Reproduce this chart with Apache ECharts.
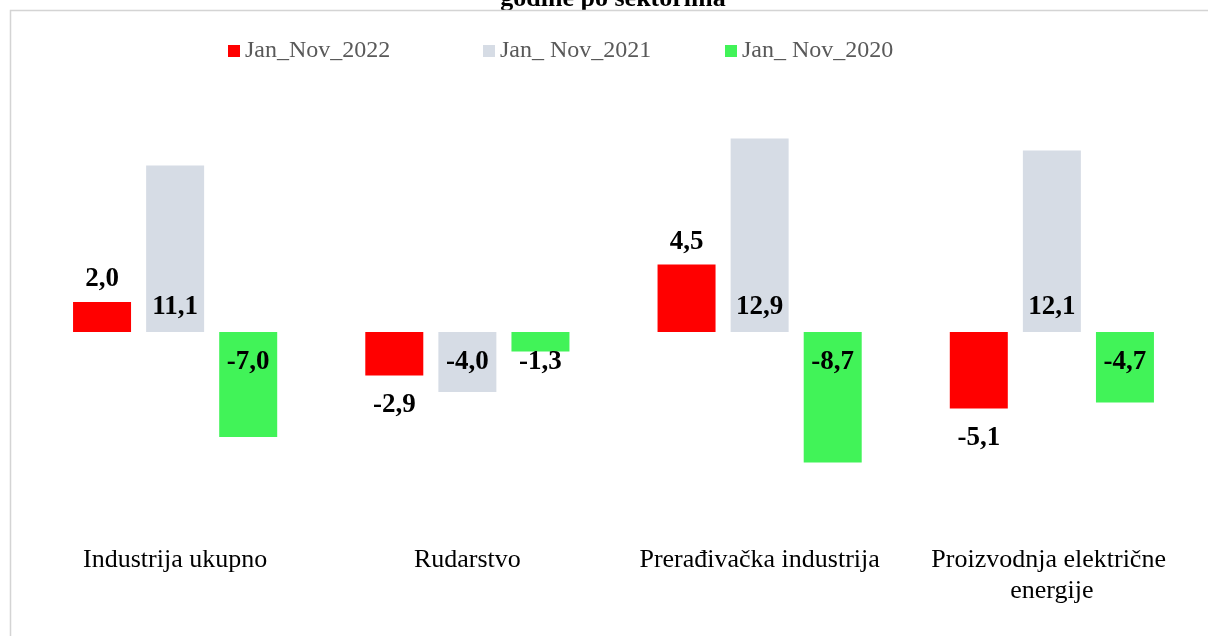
<!DOCTYPE html>
<html>
<head>
<meta charset="utf-8">
<script src="https://cdn.jsdelivr.net/npm/echarts@6/dist/echarts.min.js"></script>
<style>
html,body{margin:0;padding:0;background:#fff;}
#chart{width:1208px;height:636px;}
</style>
</head>
<body>
<div id="chart"></div>
<script>
const categories = ['Industrija ukupno', 'Rudarstvo', 'Prerađivačka industrija', 'Proizvodnja električne energije'];
const seriesNames = ['Jan_Nov_2022', 'Jan_ Nov_2021', 'Jan_ Nov_2020'];
const v2022 = [2.0, -2.9, 4.5, -5.1];
const v2021 = [11.1, -4.0, 12.9, 12.1];
const v2020 = [-7.0, -1.3, -8.7, -4.7];
const titleText = 'godine po sektorima';

const FONT = "'Liberation Serif', 'Times New Roman', serif";
const colors = ['#ff0000', '#d6dce5', '#41f358'];

const fmt = p => p.value.toFixed(1).replace('.', ',');
const labelBase = {show: true, formatter: fmt, fontFamily: FONT, fontSize: 27, fontWeight: 'bold', color: '#000'};

function outsideData(vals) {
  return vals.map(v => ({value: v, label: v >= 0 ? {position: 'top', distance: 9} : {position: 'bottom', distance: 16}}));
}
function baseData(vals) {
  return vals.map(v => ({value: v, label: v >= 0 ? {position: 'insideBottom', distance: 11} : {position: 'insideTop', distance: 17}}));
}

const chart = echarts.init(document.getElementById('chart'), null, {renderer: 'canvas'});
const legendCommon = {
  orient: 'horizontal', padding: 0, itemWidth: 12, itemHeight: 12, icon: 'rect',
  selectedMode: false, top: 39,
  textStyle: {fontFamily: FONT, fontSize: 24, color: '#595959'}
};
chart.setOption({
  animation: false,
  backgroundColor: '#fff',
  legend: [
    Object.assign({}, legendCommon, {left: 228, data: [seriesNames[0]]}),
    Object.assign({}, legendCommon, {left: 483, data: [seriesNames[1]]}),
    Object.assign({}, legendCommon, {left: 725, data: [seriesNames[2]]})
  ],
  grid: {left: 29, right: 10, top: 122, bottom: 124, containLabel: false},
  xAxis: {
    type: 'category', data: categories,
    axisLine: {show: false, onZero: false}, axisTick: {show: false}, splitLine: {show: false},
    axisLabel: {interval: 0, margin: 33, fontFamily: FONT, fontSize: 26, color: '#000',
      lineHeight: 31, width: 270, overflow: 'break'}
  },
  yAxis: {type: 'value', min: -12, max: 14, show: false, splitLine: {show: false}},
  series: [
    {name: seriesNames[0], type: 'bar', data: outsideData(v2022), barWidth: 58, barGap: '26%',
      itemStyle: {color: colors[0]}, label: labelBase},
    {name: seriesNames[1], type: 'bar', data: baseData(v2021), barWidth: 58, barGap: '26%',
      itemStyle: {color: colors[1]}, label: labelBase},
    {name: seriesNames[2], type: 'bar', data: baseData(v2020), barWidth: 58, barGap: '26%',
      itemStyle: {color: colors[2]}, label: labelBase}
  ],
  graphic: [
    {type: 'text', z: 10, style: {x: 613, y: -1, text: titleText, textAlign: 'center', textVerticalAlign: 'middle',
      font: "bold 26px " + FONT, fill: '#000'}},
    {type: 'rect', z: 11, shape: {x: 0, y: 11, width: 1208, height: 8}, style: {fill: '#fff'}},
    {type: 'rect', z: 12, shape: {x: 10.5, y: 10.5, width: 1300, height: 700}, style: {fill: 'none', stroke: '#d4d4d4', lineWidth: 1.5}}
  ]
});
</script>
</body>
</html>
